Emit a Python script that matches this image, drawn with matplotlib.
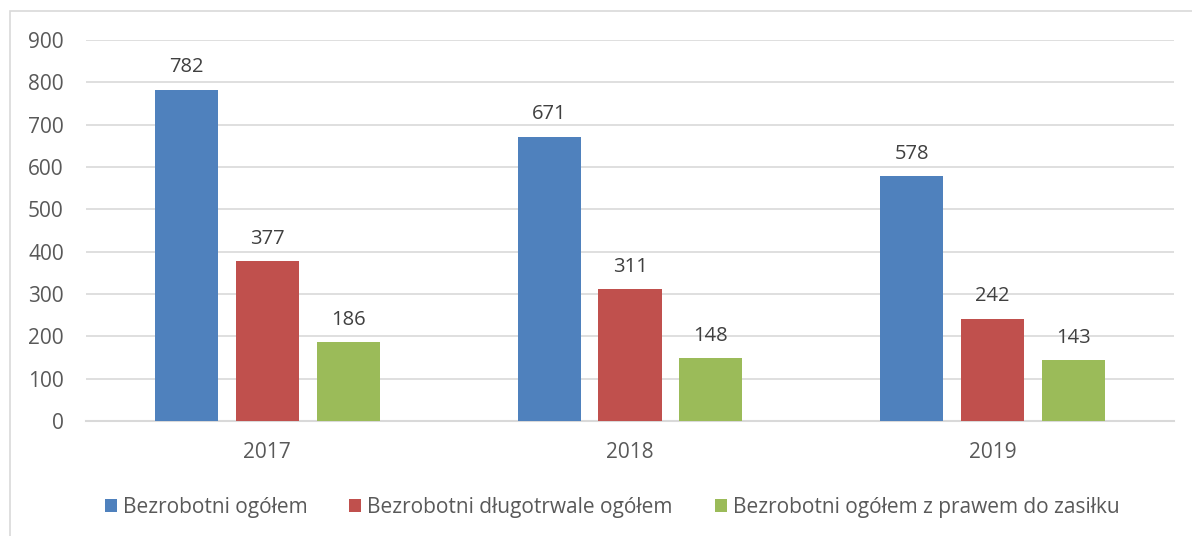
import numpy as np
import matplotlib.pyplot as plt
from matplotlib.patches import Rectangle

# Data
YEARS = ['2017', '2018', '2019']
SERIES_NAMES = [
    'Bezrobotni ogółem',
    'Bezrobotni długotrwale ogółem',
    'Bezrobotni ogółem z prawem do zasiłku',
]
TOTAL = [782, 671, 578]
LONG_TERM = [377, 311, 242]
WITH_BENEFIT = [186, 148, 143]

COLORS = ['#4F81BD', '#C0504D', '#9BBB59']
TEXT_COLOR = '#595959'
GRID_COLOR = '#D9D9D9'
BAR_WIDTH = 0.174
BAR_STEP = 0.223

plt.rcParams['font.family'] = ['Open Sans', 'DejaVu Sans']


def main():
    fig = plt.figure(figsize=(11.92, 5.36), dpi=100)
    ax = fig.add_axes([86 / 1192, 1 - 421 / 536, (1174 - 86) / 1192, (421 - 40) / 536])

    # chart frame (Excel style), runs off right/bottom edges
    fig.patches.append(Rectangle((10 / 1192, -0.1), 1.2, 1 - 11 / 536 + 0.1,
                                 transform=fig.transFigure, fill=False,
                                 edgecolor=GRID_COLOR, linewidth=1.2))

    x = np.arange(len(YEARS))
    series = [TOTAL, LONG_TERM, WITH_BENEFIT]
    for i, (vals, name, col) in enumerate(zip(series, SERIES_NAMES, COLORS)):
        pos = x + (i - 1) * BAR_STEP
        bars = ax.bar(pos, vals, BAR_WIDTH, color=col, label=name, zorder=3)
        ax.bar_label(bars, labels=[str(v) for v in vals], padding=9,
                     fontsize=14.5, color='#404040')

    ax.set_xlim(-0.5, 2.5)
    ax.set_ylim(0, 900)
    ax.set_yticks(range(0, 901, 100))
    ax.set_xticks(x)
    ax.set_xticklabels(YEARS)
    ax.tick_params(axis='both', length=0, labelsize=15, labelcolor=TEXT_COLOR)
    ax.tick_params(axis='y', pad=16)
    ax.tick_params(axis='x', pad=15)
    ax.grid(axis='y', color=GRID_COLOR, linewidth=1.2, zorder=0)
    ax.set_axisbelow(True)
    for side in ['top', 'right', 'left']:
        ax.spines[side].set_visible(False)
    ax.spines['bottom'].set_color(GRID_COLOR)
    ax.spines['bottom'].set_linewidth(1.5)

    fig.legend(loc='center', bbox_to_anchor=(612 / 1192, 1 - 507 / 536), ncol=3,
               frameon=False, fontsize=15, labelcolor=TEXT_COLOR,
               handlelength=0.58, handleheight=0.58, handletextpad=0.3,
               columnspacing=2.0)

    fig.savefig('out.png', dpi=100)


if __name__ == '__main__':
    main()
